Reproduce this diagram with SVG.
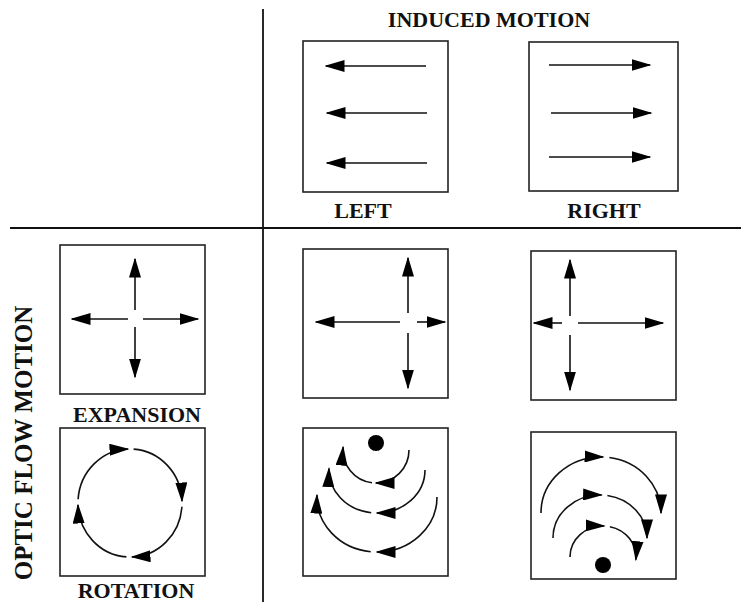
<svg xmlns="http://www.w3.org/2000/svg" width="741" height="602" viewBox="0 0 741 602">
<style>
.bg{fill:#fff}
.box{fill:none;stroke:#222;stroke-width:1.6}
.ln{fill:none;stroke:#111;stroke-width:1.6}
.div{fill:none;stroke:#111;stroke-width:1.8}
.ah{marker-end:url(#arr)}
.lbl{font-family:"Liberation Serif","Times New Roman",serif;font-weight:bold;font-size:22px;fill:#111;text-anchor:middle}
.dot{fill:#000}
</style>
<defs>
<marker id="arr" viewBox="0 0 20 12" refX="18.5" refY="6" markerWidth="20" markerHeight="12" markerUnits="userSpaceOnUse" orient="auto">
<path d="M0,0 L20,6 L0,12 Z" fill="#000"/>
</marker>
</defs>
<rect class="bg" x="0" y="0" width="741" height="602"/>

<g id="dividers">
<line class="div" x1="263" y1="9" x2="263" y2="602"/>
<line class="div" x1="10" y1="228" x2="741" y2="228"/>
</g>

<g id="header-induced">
<text class="lbl" x="489" y="27">INDUCED MOTION</text>
</g>
<g id="header-optic">
<text class="lbl" style="font-size:25px" transform="translate(32,443) rotate(-90)" x="0" y="0">OPTIC FLOW MOTION</text>
</g>

<g id="left">
<rect class="box" x="303" y="41" width="145" height="151"/>
<path class="ln ah" d="M426,66 L326,66"/>
<path class="ln ah" d="M427,113 L327,113"/>
<path class="ln ah" d="M427,163 L327,163"/>
<text class="lbl" x="363" y="218">LEFT</text>
</g>

<g id="right">
<rect class="box" x="529" y="42" width="149" height="149"/>
<path class="ln ah" d="M549,65 L650,65"/>
<path class="ln ah" d="M551,113 L651,113"/>
<path class="ln ah" d="M549,157 L650,157"/>
<text class="lbl" x="604" y="218">RIGHT</text>
</g>

<g id="expansion">
<rect class="box" x="60" y="245" width="145" height="149"/>
<path class="ln ah" d="M135,310 L135,259"/>
<path class="ln ah" d="M135,327 L135,377"/>
<path class="ln ah" d="M128,319 L72,319"/>
<path class="ln ah" d="M143,319 L198,319"/>
<text class="lbl" x="137" y="422">EXPANSION</text>
</g>

<g id="rotation">
<rect class="box" x="60" y="428" width="145" height="148"/>
<path class="ln ah" d="M78.1,499.2 A52,54 0 0 1 128,449"/>
<path class="ln ah" d="M133.6,449.1 A52,54 0 0 1 182,501"/>
<path class="ln ah" d="M181.9,506.8 A52,54 0 0 1 132,557"/>
<path class="ln ah" d="M126.4,556.9 A52,54 0 0 1 78,505"/>
<text class="lbl" x="136" y="598">ROTATION</text>
</g>

<g id="expansion-left">
<rect class="box" x="303" y="249" width="145" height="149"/>
<path class="ln ah" d="M408,313 L408,258"/>
<path class="ln ah" d="M408,333 L408,388"/>
<path class="ln ah" d="M400,322 L316,322"/>
<path class="ln ah" d="M417,322 L445,322"/>
</g>

<g id="expansion-right">
<rect class="box" x="531" y="251" width="145" height="149"/>
<path class="ln ah" d="M570,316 L570,260"/>
<path class="ln ah" d="M570,335 L570,390"/>
<path class="ln ah" d="M562,323 L534,323"/>
<path class="ln ah" d="M578,323 L663,323"/>
</g>

<g id="rotation-left">
<rect class="box" x="303" y="428" width="145" height="148"/>
<circle class="dot" cx="376" cy="443" r="8"/>
<path class="ln ah" d="M409,450 A33,33 0 0 1 376,483"/>
<path class="ln ah" d="M372,482.8 A33,33 0 0 1 343.1,447.1"/>
<path class="ln ah" d="M425,470 A48,43 0 0 1 377,513"/>
<path class="ln ah" d="M371.2,512.7 A48,43 0 0 1 329,468.5"/>
<path class="ln ah" d="M437,497 A60,55 0 0 1 377,552"/>
<path class="ln ah" d="M370.7,551.7 A60,55 0 0 1 317,495.1"/>
</g>

<g id="rotation-right">
<rect class="box" x="531" y="432" width="145" height="147"/>
<circle class="dot" cx="603" cy="565" r="8"/>
<path class="ln ah" d="M541,513 A60,56 0 0 1 603.1,457"/>
<path class="ln ah" d="M609.4,457.5 A60,56 0 0 1 661,513"/>
<path class="ln ah" d="M553,538 A47,43 0 0 1 601.6,495"/>
<path class="ln ah" d="M607.4,495.5 A47,43 0 0 1 647,538"/>
<path class="ln ah" d="M570,557 A33,31 0 0 1 604.2,526"/>
<path class="ln ah" d="M609.9,526.7 A33,31 0 0 1 635.9,559.7"/>
</g>
</svg>
